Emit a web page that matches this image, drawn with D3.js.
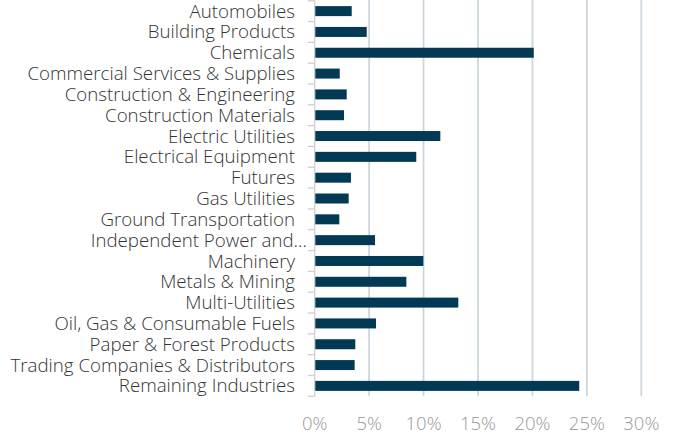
<!DOCTYPE html>
<html><head><meta charset="utf-8">
<script src="https://cdn.jsdelivr.net/npm/d3@7"></script>
<style>
body{margin:0;background:#fff;}
text{font-family:"Open Sans",sans-serif;font-weight:300;}
</style></head>
<body><svg id="c" width="678" height="436"></svg>
<script>
const categories = ["Automobiles","Building Products","Chemicals","Commercial Services & Supplies","Construction & Engineering","Construction Materials","Electric Utilities","Electrical Equipment","Futures","Gas Utilities","Ground Transportation","Independent Power and…","Machinery","Metals & Mining","Multi-Utilities","Oil, Gas & Consumable Fuels","Paper & Forest Products","Trading Companies & Distributors","Remaining Industries"];
const values = [3.40,4.78,20.12,2.30,2.94,2.69,11.54,9.33,3.33,3.12,2.26,5.54,9.98,8.42,13.19,5.63,3.73,3.67,24.30];
const xTicks = [0,5,10,15,20,25,30];

const svg = d3.select("#c");
const x = d3.scaleLinear().domain([0,30]).range([314.7,641.3]);
const y = d3.scaleBand().domain(categories).range([0.7,396.3]).paddingInner(0.52).paddingOuter(0.26);

// gridlines
svg.append("g").selectAll("line").data(xTicks.slice(1)).join("line")
  .attr("x1",d=>x(d)).attr("x2",d=>x(d)).attr("y1",0).attr("y2",396.3)
  .attr("stroke","#cdd6dc").attr("stroke-width",1.8);

// bars
svg.append("g").selectAll("rect").data(categories).join("rect")
  .attr("x",x(0)).attr("y",d=>y(d))
  .attr("width",(d,i)=>x(values[i])-x(0)).attr("height",y.bandwidth())
  .attr("fill","#023a56");

// left axis line + band boundary ticks
const g = svg.append("g");
g.append("line").attr("x1",x(0)).attr("x2",x(0)).attr("y1",0.7).attr("y2",396.3).attr("stroke","#d0d0d0").attr("stroke-width",1.3);
const bounds = d3.range(categories.length+1).map(i=>0.7+i*(396.3-0.7)/categories.length);
g.selectAll("line.t").data(bounds).join("line").attr("class","t")
  .attr("x1",x(0)-7).attr("x2",x(0)).attr("y1",d=>d).attr("y2",d=>d)
  .attr("stroke","#d0d0d0").attr("stroke-width",1.3);

// category labels
svg.append("g").selectAll("text").data(categories).join("text")
  .attr("x",d=>d.endsWith("…")?307:295)
  .attr("y",d=>y(d)+y.bandwidth()/2)
  .attr("dy","0.35em").attr("text-anchor","end")
  .attr("font-size",18.7).attr("fill","#333")
  .text(d=>d);

// x tick labels
svg.append("g").selectAll("text").data(xTicks).join("text")
  .attr("x",d=>x(d)).attr("y",424).attr("dy","0.35em").attr("text-anchor","middle")
  .attr("font-size",18.5).attr("fill","#999")
  .text(d=>d+"%");
</script></body></html>
